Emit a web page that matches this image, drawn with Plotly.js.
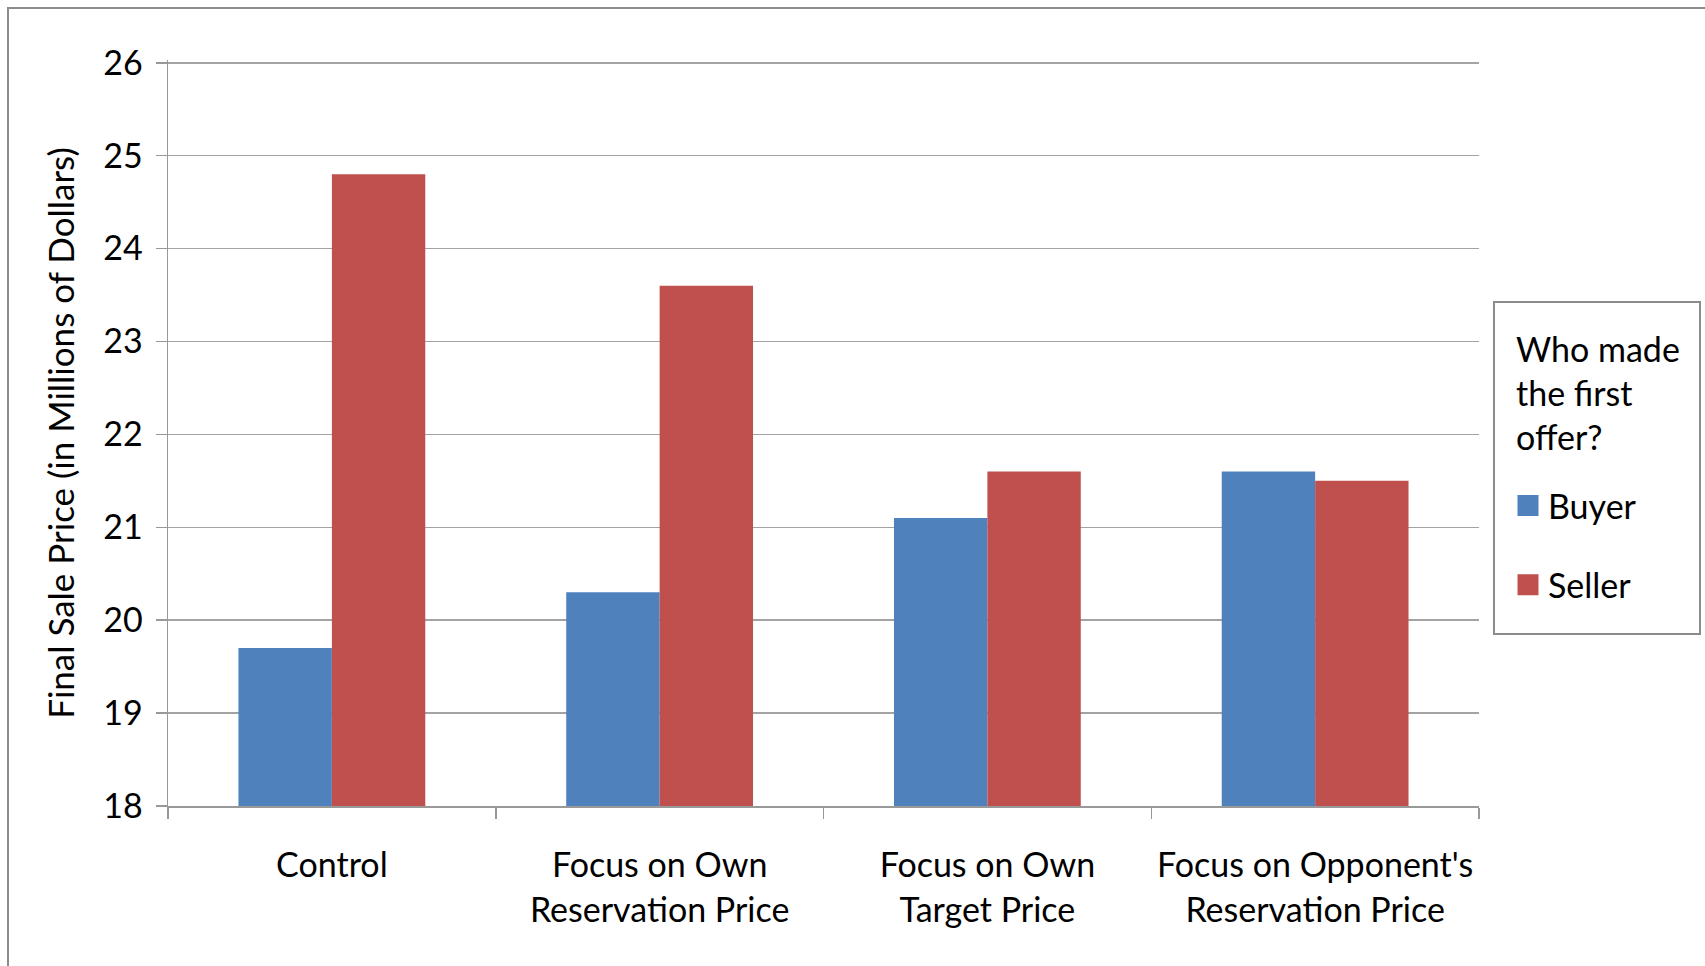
<!DOCTYPE html>
<html>
<head>
<meta charset="utf-8">
<script src="https://cdn.plot.ly/plotly-3.0.1.min.js"></script>
<style>
  html, body { margin: 0; padding: 0; background: #fff; }
  #wrap { position: relative; width: 1705px; height: 966px; overflow: hidden; }
  #chart { width: 1705px; height: 966px; }
  #frame { position: absolute; left: 7px; top: 7px; width: 2000px; height: 2000px;
           border-left: 2px solid #8c8c8c; border-top: 2px solid #8c8c8c; pointer-events: none; }
</style>
</head>
<body>
<div id="wrap">
  <div id="chart"></div>
  <div id="frame"></div>
</div>
<script>
const categories = [
  "Control",
  "Focus on Own<br>Reservation Price",
  "Focus on Own<br>Target Price",
  "Focus on Opponent's<br>Reservation Price"
];
const buyerValues = [19.7, 20.3, 21.1, 21.6];
const sellerValues = [24.8, 23.6, 21.6, 21.5];
const seriesNames = ["Buyer", "Seller"];
const seriesColors = ["#4F81BD", "#C0504D"];
const yTicks = [18, 19, 20, 21, 22, 23, 24, 25, 26];
const legendTitle = "Who made<br>the first<br>offer?";

const FONT = "Lato, 'Open Sans', sans-serif";
const FS = 34;

// plot area geometry (pixels)
const PL = 168, PR = 1479, PT = 60, PB = 806;
const pw = PR - PL, ph = PB - PT;
const px = v => (v - PL) / pw;          // pixel x -> paper x
const py = v => (PB - v) / ph;          // pixel y -> paper y

const traces = [
  { type: "bar", x: categories, y: buyerValues, name: seriesNames[0],
    marker: { color: seriesColors[0] }, showlegend: false },
  { type: "bar", x: categories, y: sellerValues, name: seriesNames[1],
    marker: { color: seriesColors[1] }, showlegend: false },
  // legend-only entries (larger square swatches)
  { type: "scatter", mode: "markers", x: [null], y: [null], name: seriesNames[0],
    legendgroup: "b", marker: { symbol: "square", size: 16, color: seriesColors[0],
    line: { color: seriesColors[0], width: 5 } } },
  { type: "scatter", mode: "markers", x: [null], y: [null], name: seriesNames[1],
    legendgroup: "s", marker: { symbol: "square", size: 16, color: seriesColors[1],
    line: { color: seriesColors[1], width: 5 } } }
];

const layout = {
  width: 1705, height: 966,
  margin: { l: PL, r: 1705 - PR, t: PT, b: 966 - PB },
  paper_bgcolor: "#fff", plot_bgcolor: "#fff",
  font: { family: FONT, size: FS, color: "#000" },
  barmode: "group",
  bargap: 0.43, bargroupgap: 0,
  showlegend: true,
  xaxis: {
    type: "category",
    showgrid: false,
    showline: true, linecolor: "#999", linewidth: 1.5,
    ticks: "outside", tickson: "boundaries", ticklen: 11, tickcolor: "#999", tickwidth: 1.5,
    tickfont: { family: FONT, size: FS, color: "#000" },
    ticklabelstandoff: 29,
    fixedrange: true
  },
  yaxis: {
    range: [18, 26.03],
    tickvals: yTicks,
    ticktext: yTicks.map(String),
    showgrid: true, gridcolor: "#a3a3a3", gridwidth: 1.5,
    zeroline: false,
    showline: true, linecolor: "#999", linewidth: 1.5,
    ticks: "outside", ticklen: 11, tickcolor: "#999", tickwidth: 1.5,
    tickfont: { family: FONT, size: FS, color: "#000" },
    ticklabelstandoff: 6,
    title: { text: "Final Sale Price (in Millions of Dollars)",
             font: { family: FONT, size: 35, color: "#000" }, standoff: 18 },
    fixedrange: true
  },
  legend: {
    x: px(1508), xanchor: "left",
    y: py(477), yanchor: "top",
    bgcolor: "rgba(0,0,0,0)",
    borderwidth: 0,
    font: { family: FONT, size: FS, color: "#000" },
    traceorder: "grouped",
    tracegroupgap: 32,
    itemwidth: 30
  },
  annotations: [
    { xref: "paper", yref: "paper", x: px(1514), y: py(326), xanchor: "left", yanchor: "top",
      align: "left", showarrow: false, text: legendTitle,
      font: { family: FONT, size: FS, color: "#000" } }
  ],
  shapes: [
    { type: "rect", xref: "paper", yref: "paper",
      x0: px(1494), x1: px(1700), y0: py(302), y1: py(634),
      line: { color: "#8c8c8c", width: 2 }, fillcolor: "rgba(0,0,0,0)", layer: "above" }
  ]
};

Plotly.newPlot("chart", traces, layout, { displayModeBar: false, staticPlot: true });
</script>
</body>
</html>
